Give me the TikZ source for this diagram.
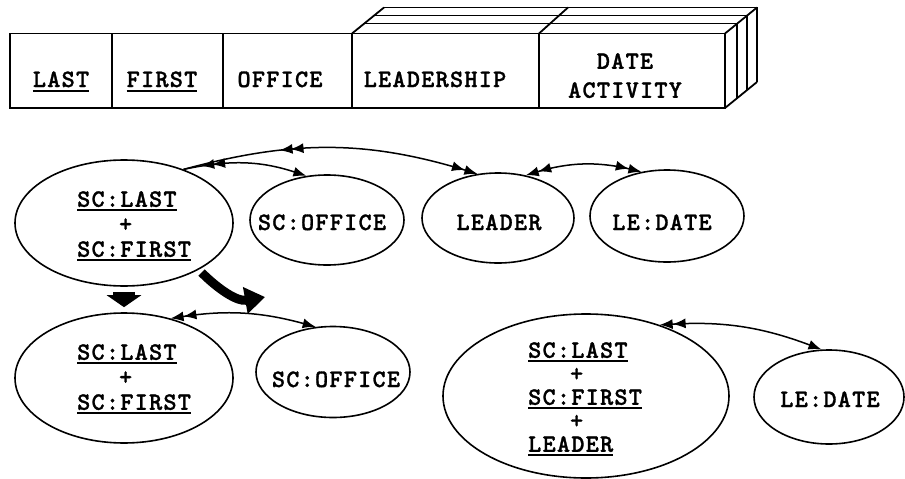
\documentclass[tikz,border=0pt]{standalone}
\usepackage{fontspec}
\newfontfamily\tw{lmmonolt10-bold}[Extension=.otf, LetterSpace=5, FakeBold=1.2]
\usetikzlibrary{shapes.geometric,arrows.meta,decorations.markings}
\newcommand\uln[1]{\setbox0\hbox{#1}\rlap{\rule[-4.5pt]{\wd0}{1.8pt}}\box0}
\newcommand\plusat{\hphantom{SC:}+}
\begin{document}
\begin{tikzpicture}[x=1pt,y=1pt,
  txt/.style={font=\tw\fontsize{25}{25}\selectfont, inner sep=0pt},
  oval/.style={ellipse, draw, line width=1.6pt, inner sep=0pt},
  frame/.style={line width=1.8pt, line join=miter},
  link/.style={line width=1.5pt, >={Latex[length=13pt,width=10pt]}},
  backhead/.style={postaction={decorate,decoration={markings,mark=at position #1 with {\arrowreversed{Latex[length=13pt,width=10pt]}}}}},
]
\useasboundingbox (0,0) rectangle (905,-479);
% ---------- record table ----------
\draw[frame] (10,-33.5) rectangle (725,-108);
\foreach \x in {112,223,352,539} \draw[frame] (\x,-33.5) -- (\x,-108);
\draw[frame] (352,-33.5) -- (384,-7.5);
\draw[frame] (539,-33.5) -- (568,-7.5);
\draw[frame] (725,-33.5) -- (757,-7.5);
\draw[frame] (725,-108) -- (757,-82);
\foreach \dx/\dy in {12/10,22/18,32/26}
  \draw[frame] (352+\dx,-33.5+\dy) -- (725+\dx,-33.5+\dy) -- (725+\dx,-108+\dy);
\node[txt, anchor=base] (tlast) at (61,-87) {\uln{LAST}};
\node[txt, anchor=base] (tfirst) at (162,-87) {\uln{FIRST}};
\node[txt, anchor=base] (toffice) at (280,-87) {OFFICE};
\node[txt, anchor=base] (tlead) at (435,-87) {LEADERSHIP};
\node[txt, align=center, anchor=north, font=\tw\fontsize{25}{29}\selectfont] (tdate) at (625,-53) {DATE\\ACTIVITY};
% ---------- first row of ovals ----------
\node[oval, minimum width=218pt, minimum height=126pt] (e1) at (124,-223) {};
\node[txt, align=left, anchor=north west] (e1t) at (77,-191) {\uln{SC:LAST}\\\plusat\\\uln{SC:FIRST}};
\node[oval, minimum width=154pt, minimum height=90pt] (e2) at (327,-220) {};
\node[txt, anchor=base] (e2t) at (322,-230) {SC:OFFICE};
\node[oval, minimum width=152pt, minimum height=90pt] (e3) at (498,-218) {};
\node[txt, anchor=base] (e3t) at (499,-230) {LEADER};
\node[oval, minimum width=154pt, minimum height=92pt] (e4) at (667,-216) {};
\node[txt, anchor=base] (e4t) at (662,-230) {LE:DATE};
% ---------- second row of ovals ----------
\node[oval, minimum width=218pt, minimum height=130pt] (e5) at (124,-378) {};
\node[txt, align=left, anchor=north west] (e5t) at (77,-344) {\uln{SC:LAST}\\\plusat\\\uln{SC:FIRST}};
\node[oval, minimum width=154pt, minimum height=91pt] (e6) at (333,-372) {};
\node[txt, anchor=base] (e6t) at (336,-387) {SC:OFFICE};
\node[oval, minimum width=286pt, minimum height=164pt] (e7) at (586,-396) {};
\node[txt, align=left, anchor=north west, font=\tw\fontsize{25}{23.5}\selectfont] (e7t) at (528,-342) {\uln{SC:LAST}\\\plusat\\\uln{SC:FIRST}\\\plusat\\\uln{LEADER}};
\node[oval, minimum width=150pt, minimum height=94pt] (e8) at (829,-397) {};
\node[txt, anchor=base] (e8t) at (830,-407) {LE:DATE};
% ---------- connectors ----------
\draw[link, ->, backhead=18pt, backhead=29pt] (e1.42) to[bend left=15] (e2.115);
\draw[link, ->>, backhead=98pt, backhead=109pt] (e1.42) to[bend left=16] (e3.115);
\draw[link, <<->>] (e3.57) to[bend left=15] (e4.120);
\draw[link, <<->] (e5.52) to[bend left=12] (e6.111);
\draw[link, <<->] (e7.44) to[bend left=12] (e8.99);
% ---------- decomposition arrows ----------
\coordinate (t2) at (265,-297);
\draw[line width=22pt, -{Triangle[length=12pt,width=34pt]}, shorten <=5pt, shorten >=5pt] (e1.south) -- (e5.north);
\draw[line width=9pt, -{Triangle[length=20pt,width=26pt]}, shorten <=4pt] (e1.-32) to[out=-45,in=190] (t2);
\end{tikzpicture}
\end{document}
